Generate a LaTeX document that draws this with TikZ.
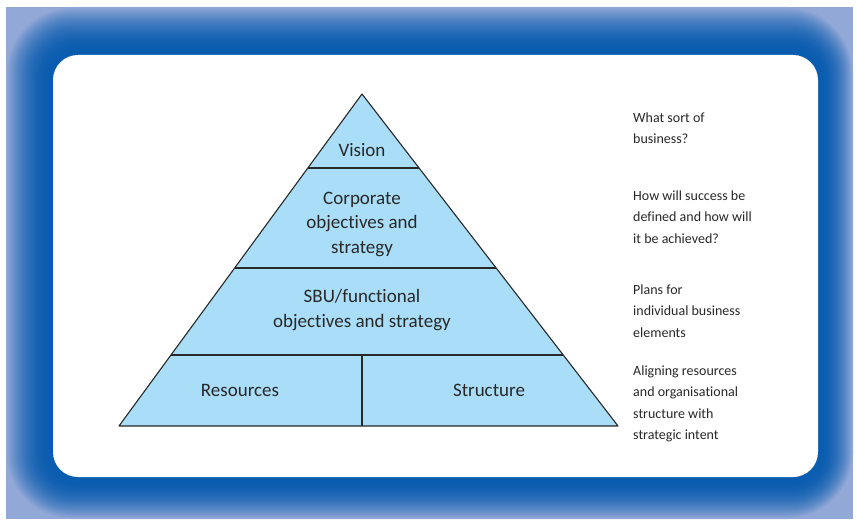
\documentclass[tikz,border=0pt]{standalone}
\usepackage{fontspec}
\setmainfont[Ligatures={NoCommon,NoContextual}]{Carlito}
\usetikzlibrary{calc}
\definecolor{frameLight}{RGB}{146,168,215}
\definecolor{frameDark}{RGB}{10,92,175}
\definecolor{pyrFill}{RGB}{170,222,248}
\definecolor{ink}{RGB}{40,40,40}
\begin{document}
\begin{tikzpicture}[x=1pt,y=-1pt,
  edge/.style={draw=ink,line width=1.1pt,line join=round},
  pyrtext/.style={text=ink,align=center,inner sep=0pt,font=\fontsize{19}{24.5}\selectfont},
  sidetext/.style={text=ink,align=left,anchor=west,inner sep=0pt,font=\fontsize{14}{21.5}\selectfont}]
\useasboundingbox (0,0) rectangle (856,521);
\fill[white] (0,0) rectangle (856,521);
% gradient frame
\begin{scope}
\clip (6,7) rectangle (853,519);
\fill[frameLight] (6,7) rectangle (853,519);
\foreach \i in {0,...,40}{
  \pgfmathsetmacro\t{\i/40}
  \pgfmathsetmacro\s{1-\t}
  \pgfmathsetmacro\pc{100*(1-(1-\t)^2.2)}
  \pgfmathsetmacro\rr{25+40*\s}
  \fill[frameDark!\pc!frameLight, rounded corners=\rr pt]
    ({53-47*\s},{55-48*\s}) rectangle ({818+35*\s},{477+42*\s});
}
\end{scope}
\fill[white, rounded corners=25pt] (53,55) rectangle (818,477);
% pyramid
\coordinate (apex) at (362,94);
\coordinate (bl) at (119,426);
\coordinate (br) at (618,426);
\coordinate (l1) at ($(apex)!{74/332}!(bl)$);
\coordinate (r1) at ($(apex)!{74/332}!(br)$);
\coordinate (l2) at ($(apex)!{174/332}!(bl)$);
\coordinate (r2) at ($(apex)!{174/332}!(br)$);
\coordinate (l3) at ($(apex)!{261/332}!(bl)$);
\coordinate (r3) at ($(apex)!{261/332}!(br)$);
\coordinate (dtop) at (362,355);
\coordinate (dbot) at (362,426);
\fill[pyrFill] (apex)--(bl)--(br)--cycle;
\draw[edge] (l1)--(r1);
\draw[edge] (l2)--(r2);
\draw[edge] (l3)--(r3);
\draw[edge] (dtop)--(dbot);
\draw[edge] (apex)--(bl)--(br)--cycle;
% pyramid labels
\node[pyrtext] (vision) at (362,150) {Vision};
\node[pyrtext] (corp) at (362,224) {Corporate\\objectives and\\strategy};
\node[pyrtext] (sbu) at (362,310) {SBU/functional\\objectives and strategy};
\node[pyrtext] (res) at (240,390) {Resources};
\node[pyrtext] (struct) at (489,390) {Structure};
% side labels
\node[sidetext] (q1) at (633,128) {What sort of\\business?};
\node[sidetext] (q2) at (633,217) {How will success be\\defined and how will\\it be achieved?};
\node[sidetext] (q3) at (633,311) {Plans for\\individual business\\elements};
\node[sidetext] (q4) at (633,404) {Aligning resources\\and organisational\\structure with\\strategic intent};
\end{tikzpicture}
\end{document}
